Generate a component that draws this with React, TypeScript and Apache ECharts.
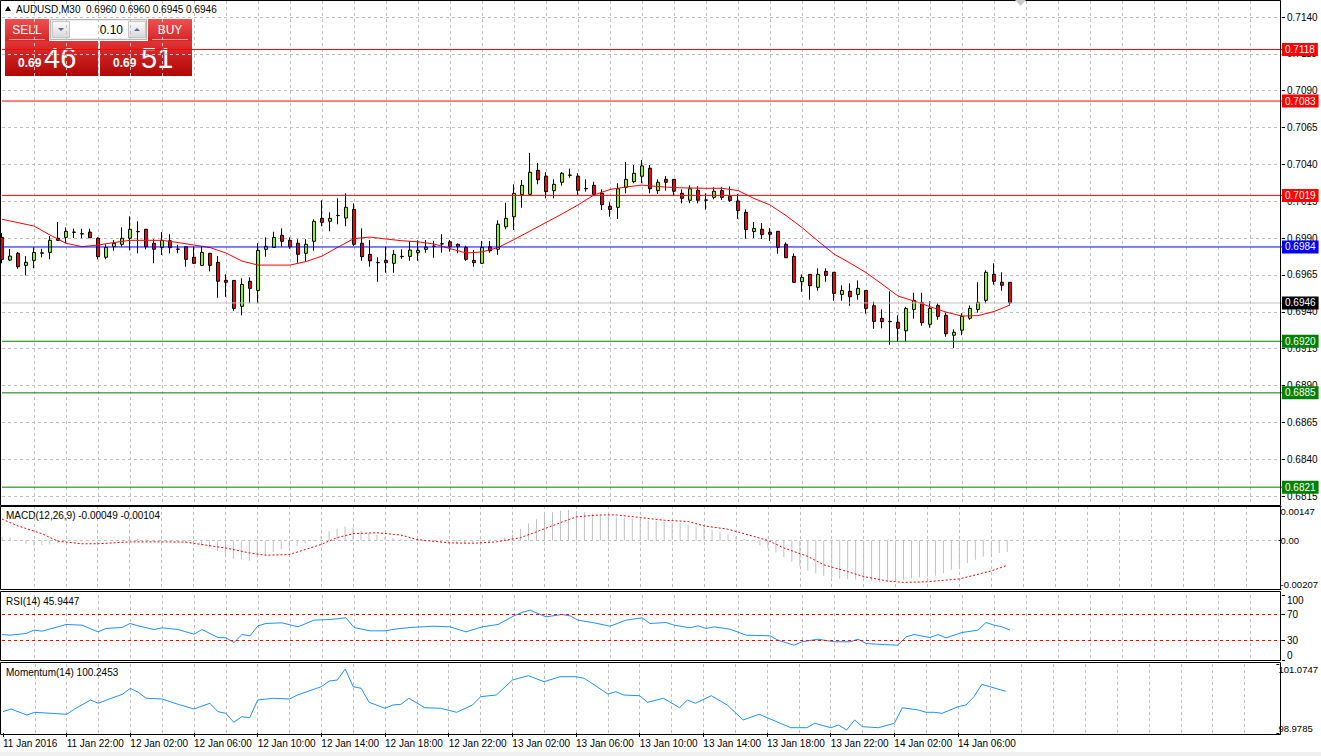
import React, { useEffect, useRef } from "react";
import * as echarts from "echarts";

const FONT = "Liberation Sans";
const slotCount = 161;

const timeTickLabels = [
  "11 Jan 2016", "11 Jan 22:00", "12 Jan 02:00", "12 Jan 06:00", "12 Jan 10:00", "12 Jan 14:00",
  "12 Jan 18:00", "12 Jan 22:00", "13 Jan 02:00", "13 Jan 06:00", "13 Jan 10:00", "13 Jan 14:00",
  "13 Jan 18:00", "13 Jan 22:00", "14 Jan 02:00", "14 Jan 06:00",
];

const opens = [
  0.69905, 0.69751, 0.69797, 0.69715, 0.69749, 0.69797, 0.69803, 0.69899, 0.69905, 0.69939,
  0.69928, 0.69941, 0.69899, 0.69770, 0.69842, 0.69858, 0.69899, 0.69943, 0.69960, 0.69865,
  0.69837, 0.69882, 0.69824, 0.69842, 0.69770, 0.69715, 0.69797, 0.69736, 0.69613, 0.69613,
  0.69437, 0.69607, 0.69545, 0.69824, 0.69837, 0.69919, 0.69885, 0.69865, 0.69797, 0.69878,
  0.70034, 0.70014, 0.70052, 0.70036, 0.70095, 0.69865, 0.69790, 0.69733, 0.69749, 0.69729,
  0.69774, 0.69776, 0.69801, 0.69824, 0.69844, 0.69860, 0.69875, 0.69858, 0.69837, 0.69749,
  0.69729, 0.69842, 0.69824, 0.69977, 0.70045, 0.70195, 0.70197, 0.70360, 0.70320, 0.70222,
  0.70279, 0.70326, 0.70320, 0.70235, 0.70258, 0.70204, 0.70116, 0.70109, 0.70245, 0.70283,
  0.70320, 0.70374, 0.70222, 0.70299, 0.70299, 0.70204, 0.70157, 0.70225, 0.70157, 0.70177,
  0.70223, 0.70183, 0.70152, 0.70075, 0.69945, 0.69960, 0.69940, 0.69946, 0.69858, 0.69776,
  0.69604, 0.69654, 0.69566, 0.69674, 0.69668, 0.69518, 0.69539, 0.69518, 0.69545, 0.69441,
  0.69356, 0.69333, 0.69329, 0.69271, 0.69416, 0.69464, 0.69315, 0.69443, 0.69376, 0.69241,
  0.69275, 0.69356, 0.69416, 0.69478, 0.69654, 0.69600, 0.69600,
];
const closes = [
  0.69756, 0.69778, 0.69706, 0.69736, 0.69803, 0.69800, 0.69885, 0.69885, 0.69946, 0.69941,
  0.69930, 0.69903, 0.69774, 0.69837, 0.69865, 0.69899, 0.69960, 0.69945, 0.69842, 0.69824,
  0.69885, 0.69835, 0.69826, 0.69756, 0.69729, 0.69803, 0.69715, 0.69607, 0.69600, 0.69423,
  0.69586, 0.69559, 0.69817, 0.69844, 0.69905, 0.69878, 0.69842, 0.69790, 0.69858, 0.70014,
  0.70007, 0.70034, 0.70054, 0.70109, 0.69858, 0.69774, 0.69746, 0.69735, 0.69733, 0.69790,
  0.69776, 0.69819, 0.69817, 0.69839, 0.69846, 0.69862, 0.69842, 0.69842, 0.69756, 0.69733,
  0.69837, 0.69814, 0.69994, 0.70034, 0.70204, 0.70258, 0.70347, 0.70296, 0.70215, 0.70265,
  0.70340, 0.70328, 0.70225, 0.70237, 0.70197, 0.70127, 0.70095, 0.70235, 0.70299, 0.70340,
  0.70390, 0.70235, 0.70279, 0.70279, 0.70218, 0.70170, 0.70235, 0.70157, 0.70159, 0.70218,
  0.70176, 0.70156, 0.70087, 0.69958, 0.69966, 0.69924, 0.69926, 0.69837, 0.69767, 0.69600,
  0.69634, 0.69577, 0.69654, 0.69647, 0.69525, 0.69545, 0.69502, 0.69559, 0.69423, 0.69335,
  0.69333, 0.69335, 0.69288, 0.69423, 0.69478, 0.69326, 0.69423, 0.69369, 0.69251, 0.69261,
  0.69369, 0.69423, 0.69464, 0.69668, 0.69607, 0.69580, 0.69460,
];
const highs = [
  0.69935, 0.69826, 0.69806, 0.69778, 0.69837, 0.69828, 0.69914, 0.70009, 0.69973, 0.69964,
  0.69964, 0.69964, 0.69905, 0.69858, 0.69887, 0.69973, 0.70048, 0.70014, 0.69962, 0.69892,
  0.69941, 0.69926, 0.69855, 0.69846, 0.69842, 0.69842, 0.69799, 0.69778, 0.69654, 0.69615,
  0.69627, 0.69634, 0.69865, 0.69905, 0.69943, 0.69966, 0.69905, 0.69892, 0.69892, 0.70028,
  0.70157, 0.70075, 0.70170, 0.70204, 0.70136, 0.69966, 0.69887, 0.69770, 0.69842, 0.69819,
  0.69824, 0.69878, 0.69885, 0.69887, 0.69882, 0.69926, 0.69887, 0.69863, 0.69848, 0.69819,
  0.69880, 0.69880, 0.70021, 0.70140, 0.70265, 0.70294, 0.70478, 0.70410, 0.70347, 0.70299,
  0.70349, 0.70371, 0.70340, 0.70299, 0.70283, 0.70231, 0.70143, 0.70272, 0.70416, 0.70396,
  0.70430, 0.70396, 0.70299, 0.70321, 0.70301, 0.70231, 0.70258, 0.70252, 0.70204, 0.70245,
  0.70247, 0.70250, 0.70199, 0.70095, 0.70009, 0.70002, 0.69968, 0.69948, 0.69871, 0.69797,
  0.69654, 0.69656, 0.69695, 0.69695, 0.69670, 0.69579, 0.69593, 0.69613, 0.69547, 0.69468,
  0.69416, 0.69539, 0.69376, 0.69434, 0.69529, 0.69529, 0.69471, 0.69457, 0.69394, 0.69281,
  0.69390, 0.69443, 0.69600, 0.69682, 0.69729, 0.69668, 0.69600,
];
const lows = [
  0.69729, 0.69744, 0.69692, 0.69647, 0.69695, 0.69770, 0.69756, 0.69882, 0.69865, 0.69901,
  0.69899, 0.69901, 0.69756, 0.69756, 0.69814, 0.69842, 0.69817, 0.69797, 0.69824, 0.69729,
  0.69785, 0.69797, 0.69797, 0.69706, 0.69724, 0.69714, 0.69674, 0.69495, 0.69502, 0.69407,
  0.69376, 0.69457, 0.69457, 0.69774, 0.69836, 0.69842, 0.69828, 0.69733, 0.69740, 0.69814,
  0.69980, 0.69946, 0.69994, 0.69980, 0.69846, 0.69746, 0.69706, 0.69604, 0.69665, 0.69665,
  0.69760, 0.69746, 0.69746, 0.69801, 0.69767, 0.69801, 0.69808, 0.69797, 0.69746, 0.69706,
  0.69727, 0.69801, 0.69787, 0.69960, 0.69955, 0.70106, 0.70196, 0.70265, 0.70170, 0.70170,
  0.70256, 0.70310, 0.70193, 0.70215, 0.70196, 0.70091, 0.70045, 0.70030, 0.70204, 0.70272,
  0.70272, 0.70204, 0.70199, 0.70222, 0.70186, 0.70136, 0.70136, 0.70136, 0.70093, 0.70163,
  0.70159, 0.70145, 0.70030, 0.69896, 0.69901, 0.69894, 0.69880, 0.69794, 0.69765, 0.69598,
  0.69536, 0.69482, 0.69543, 0.69604, 0.69475, 0.69475, 0.69441, 0.69482, 0.69387, 0.69285,
  0.69288, 0.69177, 0.69199, 0.69199, 0.69353, 0.69305, 0.69292, 0.69346, 0.69231, 0.69153,
  0.69241, 0.69346, 0.69394, 0.69457, 0.69584, 0.69543, 0.69449,
];

const maPoints = [
  [0, 0.70028], [4, 0.69982], [6, 0.69921], [8, 0.69865], [10, 0.69842], [12, 0.69853], [14, 0.69870],
  [16, 0.69885], [18, 0.69885], [20, 0.69885], [22, 0.69870], [24, 0.69853], [26, 0.69836], [28, 0.69799],
  [30, 0.69744], [32, 0.69717], [34, 0.69717], [36, 0.69717], [38, 0.69741], [40, 0.69778], [42, 0.69839],
  [44, 0.69897], [46, 0.69907], [48, 0.69894], [50, 0.69882], [52, 0.69875], [54, 0.69860], [56, 0.69829],
  [58, 0.69799], [60, 0.69806], [62, 0.69836], [64, 0.69890], [66, 0.69948], [68, 0.70006], [70, 0.70064],
  [72, 0.70125], [74, 0.70193], [76, 0.70230], [78, 0.70247], [80, 0.70260], [82, 0.70250], [84, 0.70243],
  [86, 0.70240], [88, 0.70238], [90, 0.70238], [92, 0.70223], [94, 0.70169], [96, 0.70125], [98, 0.70053],
  [100, 0.69972], [102, 0.69880], [104, 0.69792], [106, 0.69731], [108, 0.69666], [110, 0.69588],
  [112, 0.69507], [114, 0.69473], [116, 0.69435], [118, 0.69398], [120, 0.69371], [122, 0.69374],
  [124, 0.69402], [126, 0.69446],
];

const priceMin = 0.68089;
const priceMax = 0.71509;
const priceTicks = [0.6815, 0.684, 0.6865, 0.689, 0.6915, 0.694, 0.6965, 0.699, 0.7015, 0.704, 0.7065, 0.709, 0.7115, 0.714];
const levelValues = [0.7118, 0.7083, 0.7019, 0.6984, 0.6946, 0.692, 0.6885, 0.6821];
const levelKinds = ["resistance", "resistance", "resistance", "pivot", "bid", "support", "support", "support"];

const macdMain = [
  0.00016, 0.00014, -0.00003, -0.00014, -0.0002, -0.0002, -0.00017, -0.00012, -0.00006, -0.00003,
  0.00001, 0.00002, 0.00002, 0.00001, 0.00001, 0.00003, 0.00005, 0.00006, 0.00005, 0.00003,
  0.00003, 0.00001, -0.00004, -0.0001, -0.00016, -0.00022, -0.0003, -0.00045, -0.00058, -0.00078,
  -0.0008, -0.00086, -0.00075, -0.00062, -0.0005, -0.00038, -0.0003, -0.00024, -0.00012, 0.00004,
  0.00019, 0.0004, 0.0005, 0.0006, 0.00055, 0.0004, 0.0003, 0.00024, 0.00016, 0.0001,
  0.00005, 0.00002, -0.00002, -0.00005, -0.00008, -0.00009, -0.00012, -0.00015, -0.00014, -0.00012,
  -0.00008, -0.00005, 0.0, 0.00012, 0.00026, 0.0005, 0.00072, 0.0009, 0.0011, 0.0012,
  0.00127, 0.0013, 0.00127, 0.0012, 0.00115, 0.00109, 0.00105, 0.00101, 0.00098, 0.00095,
  0.0009, 0.00086, 0.00084, 0.0008, 0.00078, 0.00074, 0.00068, 0.0006, 0.00054, 0.00046,
  0.00036, 0.00026, 0.00016, 0.00006, -0.00004, -0.0002, -0.00032, -0.0005, -0.0007, -0.0009,
  -0.0011, -0.00128, -0.0014, -0.0015, -0.00158, -0.00162, -0.00165, -0.00167, -0.0017, -0.00173,
  -0.00176, -0.00176, -0.00173, -0.00168, -0.00162, -0.00158, -0.00154, -0.0015, -0.0014, -0.00125,
  -0.0011, -0.00096, -0.00082, -0.00068, -0.0006, -0.00053, -0.00049,
];
const macdSignalPoints = [
  [0, 0.00091], [2, 0.00062], [5, 0.00029], [7, -0.00003], [10, -0.00014], [12, -0.00014], [16, -0.00006],
  [20, -0.00006], [23, -0.00007], [25, -0.00017], [28, -0.00032], [31, -0.00053], [33, -0.00063],
  [36, -0.0006], [38, -0.00039], [40, -0.00017], [42, 0.00012], [44, 0.00029], [47, 0.00033], [50, 0.00023],
  [52, 0.00004], [56, -0.0001], [59, -0.00012], [62, -0.00006], [65, 0.00012], [67, 0.00037], [70, 0.00076],
  [72, 0.00101], [75, 0.00109], [77, 0.00109], [80, 0.00098], [83, 0.00086], [86, 0.00081], [88, 0.00062],
  [91, 0.00048], [93, 0.00029], [96, 0.0], [98, -0.00032], [101, -0.00068], [103, -0.00104], [106, -0.00133],
  [108, -0.00154], [111, -0.00173], [113, -0.00179], [116, -0.00176], [120, -0.00164], [122, -0.00147],
  [124, -0.0013], [125, -0.00118], [126, -0.00106],
];
const macdTicks = [-0.00207, 0, 0.00147];

const rsiPoints = [
  [0, 39.2], [1, 38.2], [3, 40.8], [4, 45.9], [5, 44.4], [7, 51], [8, 54.6], [10, 53.6], [12, 43.3], [13, 48.5],
  [15, 50], [16, 56.2], [17, 52.6], [19, 46.9], [20, 49.5], [22, 46.9], [24, 39.7], [25, 46.9], [27, 34.6],
  [28, 34.1], [29, 26.9], [30, 39.2], [31, 37.2], [32, 52.6], [33, 56.2], [35, 57.2], [37, 51], [39, 61.3],
  [41, 62.3], [43, 64.9], [44, 50], [46, 44.9], [48, 44.9], [49, 47.4], [51, 50], [54, 52], [56, 51],
  [58, 43.3], [60, 51], [62, 54.6], [64, 68], [65, 73.1], [66, 76.7], [68, 66.4], [70, 70], [71, 68],
  [72, 61.3], [74, 57.2], [76, 52], [78, 61.3], [80, 64.9], [81, 56.2], [83, 57.7], [84, 53.6], [86, 49.5],
  [87, 52.6], [88, 48.5], [89, 51], [91, 47.4], [93, 38.2], [96, 37.2], [97, 30.5], [99, 22.8], [100, 28],
  [102, 32], [104, 28], [106, 28], [107, 32], [108, 25.4], [110, 23.8], [112, 22.8], [113, 35.6], [114, 39.2],
  [116, 34.6], [117, 39.2], [118, 34.1], [120, 42.3], [122, 45.9], [123, 57.7], [124, 53.6], [125, 51],
  [126, 45.9447],
];
const rsiLevels = [30, 70];
const rsiTicks = [0, 30, 70, 100];

const momentumPoints = [
  [0, 99.626], [1, 99.708], [3, 99.525], [4, 99.607], [6, 99.577], [8, 99.547], [9, 99.708], [11, 99.981],
  [12, 99.881], [13, 99.981], [15, 100.154], [16, 100.336], [17, 100.215], [18, 100.033], [20, 100.011],
  [22, 99.85], [24, 99.708], [26, 99.881], [27, 99.626], [28, 99.577], [29, 99.304], [30, 99.474],
  [31, 99.443], [32, 99.981], [34, 100.033], [36, 100.011], [37, 100.133], [40, 100.385], [41, 100.558],
  [42, 100.588], [43, 100.923], [44, 100.385], [45, 100.336], [46, 99.911], [48, 99.729], [49, 99.829],
  [50, 99.85], [51, 100.033], [53, 99.747], [55, 99.729], [57, 99.607], [59, 99.829], [60, 100.082],
  [62, 100.133], [64, 100.588], [66, 100.719], [68, 100.537], [70, 100.689], [72, 100.689], [73, 100.64],
  [74, 100.488], [76, 100.163], [77, 100.233], [78, 100.133], [80, 100.11], [81, 99.911], [83, 100.033],
  [85, 99.747], [86, 99.981], [87, 99.881], [89, 100.112], [91, 99.829], [93, 99.374], [95, 99.547],
  [97, 99.343], [99, 99.139], [101, 99.14], [102, 99.273], [104, 99.139], [105, 99.22], [106, 99.07],
  [107, 99.374], [108, 99.17], [110, 99.139], [112, 99.273], [113, 99.747], [115, 99.677], [116, 99.607],
  [117, 99.607], [118, 99.577], [120, 99.777], [121, 99.829], [122, 100.082], [123, 100.458],
  [124, 100.385], [126, 100.2453],
];
const momentumTicks = [98.9785, 101.0747];

const levelStyle: Record<string, { line: string; bg: string }> = {
  resistance: { line: "#ff0000", bg: "#ff0000" },
  pivot: { line: "#0000ff", bg: "#0000ff" },
  bid: { line: "#c0c0c0", bg: "#000000" },
  support: { line: "#008000", bg: "#008000" },
};

function buildOption() {
  const categories = Array.from({ length: slotCount }, (_, i) => String(i));
  const lastSlot = slotCount - 1;
  const dash = { color: "#c0c0c0", type: [3, 3] as any, width: 1 };
  const vSplit = {
    show: true,
    interval: (i: number) => i > 0 && i % 4 === 0 && i < 158,
    lineStyle: dash,
  };
  const labelInterval = (i: number) => i % 8 === 0 && i / 8 < timeTickLabels.length;

  const xAxis = [0, 1, 2, 3].map((gi) => ({
    type: "category",
    gridIndex: gi,
    data: categories,
    boundaryGap: false,
    axisLine: { show: false },
    axisTick:
      gi === 3
        ? { show: true, interval: labelInterval, length: 4, lineStyle: { color: "#000" } }
        : { show: false },
    axisLabel:
      gi === 3
        ? {
            show: true,
            interval: labelInterval,
            formatter: (_v: string, idx: number) => timeTickLabels[idx / 8] || "",
            align: "left",
            margin: 5,
            color: "#000",
            fontSize: 10,
            fontFamily: FONT,
          }
        : { show: false },
    splitLine: vSplit,
  }));

  const yAx = (gi: number, min: number, max: number, ticks: number[], fmt: (v: number) => string, margin: number, size: number) => ({
    type: "value",
    gridIndex: gi,
    position: "right",
    min,
    max,
    axisLine: { show: false },
    splitLine: { show: false },
    axisTick: { show: true, customValues: ticks, length: 3, lineStyle: { color: "#000" } },
    axisLabel: {
      customValues: ticks,
      formatter: fmt,
      color: "#000",
      fontSize: size,
      fontFamily: FONT,
      margin,
      verticalAlignMaxLabel: gi === 0 ? "middle" : "top",
      verticalAlignMinLabel: gi === 0 ? "middle" : "bottom",
    },
  });

  const yAxis = [
    yAx(0, priceMin, priceMax, priceTicks, (v) => v.toFixed(4), 5, 10),
    yAx(1, macdTicks[0], macdTicks[2], macdTicks, (v) => (v === 0 ? "0.00" : v.toFixed(5)), 2, 9.5),
    yAx(2, 0, 100, rsiTicks, (v) => String(v), 5, 10),
    yAx(3, momentumTicks[0], momentumTicks[1], momentumTicks, (v) => v.toFixed(4), 2, 9.5),
  ];

  const candleData = opens.map((o, i) => [o, closes[i], lows[i], highs[i]]);

  const levelSeries = levelValues.map((v, i) => {
    const st = levelStyle[levelKinds[i]];
    return {
      type: "line",
      xAxisIndex: 0,
      yAxisIndex: 0,
      data: [
        [0, v],
        [lastSlot, v],
      ],
      symbol: "none",
      silent: true,
      clip: false,
      z: 5,
      lineStyle: { color: st.line, width: 1, type: "solid" },
      endLabel: {
        show: true,
        formatter: v.toFixed(4),
        backgroundColor: st.bg,
        color: "#ffffff",
        padding: [2, 3, 1, 3],
        fontSize: 10,
        fontFamily: FONT,
        distance: 0,
      },
    };
  });

  const series: any[] = [
    {
      type: "candlestick",
      xAxisIndex: 0,
      yAxisIndex: 0,
      data: candleData,
      barWidth: 4,
      clip: false,
      z: 3,
      itemStyle: {
        color: "#7fff00",
        color0: "#ff0000",
        borderColor: "#000000",
        borderColor0: "#000000",
        borderWidth: 1,
      },
      markLine: {
        silent: true,
        z: 1,
        precision: 6,
        symbol: ["none", "none"],
        label: { show: false },
        lineStyle: dash,
        data: priceTicks.map((v) => ({ yAxis: v })),
      },
    },
    {
      type: "line",
      xAxisIndex: 0,
      yAxisIndex: 0,
      data: maPoints,
      symbol: "none",
      z: 4,
      lineStyle: { color: "#ff0000", width: 1 },
    },
    ...levelSeries,
    {
      type: "bar",
      xAxisIndex: 1,
      yAxisIndex: 1,
      data: macdMain,
      barWidth: 1,
      z: 2,
      itemStyle: { color: "#c0c0c0" },
      markLine: {
        silent: true,
        z: 1,
        precision: 6,
        symbol: ["none", "none"],
        label: { show: false },
        lineStyle: dash,
        data: [{ yAxis: 0 }],
      },
    },
    {
      type: "line",
      xAxisIndex: 1,
      yAxisIndex: 1,
      data: macdSignalPoints,
      symbol: "none",
      z: 3,
      lineStyle: { color: "#ff0000", width: 1, type: [2, 2] },
    },
    {
      type: "line",
      xAxisIndex: 2,
      yAxisIndex: 2,
      data: rsiPoints,
      symbol: "none",
      z: 3,
      lineStyle: { color: "#1e90ff", width: 1 },
      markLine: {
        silent: true,
        precision: 6,
        symbol: ["none", "none"],
        label: { show: false },
        lineStyle: { color: "#ff0000", type: [3, 3], width: 1 },
        data: rsiLevels.map((v) => ({ yAxis: v })),
      },
    },
    {
      type: "line",
      xAxisIndex: 3,
      yAxisIndex: 3,
      data: momentumPoints,
      symbol: "none",
      z: 3,
      lineStyle: { color: "#1e90ff", width: 1 },
    },
  ];

  const frame = (y: number, h: number) => ({
    type: "rect",
    z: 50,
    silent: true,
    shape: { x: 0.5, y: y + 0.5, width: 1280, height: h },
    style: { fill: "none", stroke: "#000", lineWidth: 1 },
  });
  const txt = (x: number, y: number, text: string, extra: any = {}) => ({
    type: "text",
    z: 60,
    silent: true,
    x,
    y,
    style: { text, fill: "#000", font: `10px "${FONT}"`, textVerticalAlign: "middle", ...extra },
  });
  const redGrad = (a: string, b: string) =>
    new echarts.graphic.LinearGradient(0, 0, 0, 1, [
      { offset: 0, color: a },
      { offset: 1, color: b },
    ]);
  const grayGrad = () =>
    new echarts.graphic.LinearGradient(0, 0, 0, 1, [
      { offset: 0, color: "#fbfbfb" },
      { offset: 1, color: "#d8d8d8" },
    ]);

  const panel = {
    type: "group",
    z: 100,
    silent: true,
    children: [
      { type: "rect", shape: { x: 5, y: 19, width: 44, height: 22 }, style: { fill: redGrad("#ef5050", "#d42626") } },
      { type: "rect", shape: { x: 148, y: 19, width: 44, height: 22 }, style: { fill: redGrad("#ef5050", "#d42626") } },
      { type: "line", shape: { x1: 9, y1: 39.5, x2: 45, y2: 39.5 }, style: { stroke: "#f49a9a", lineWidth: 1 } },
      { type: "line", shape: { x1: 152, y1: 39.5, x2: 188, y2: 39.5 }, style: { stroke: "#f49a9a", lineWidth: 1 } },
      { type: "text", x: 27, y: 30, style: { text: "SELL", fill: "#fff", font: `12px "${FONT}"`, textAlign: "center", textVerticalAlign: "middle" } },
      { type: "text", x: 170, y: 30, style: { text: "BUY", fill: "#fff", font: `12px "${FONT}"`, textAlign: "center", textVerticalAlign: "middle" } },
      { type: "rect", shape: { x: 50.5, y: 19.5, width: 96, height: 20 }, style: { fill: "#ececec", stroke: "#b4b4b4", lineWidth: 1 } },
      { type: "rect", shape: { x: 52.5, y: 21.5, width: 17, height: 16 }, style: { fill: grayGrad(), stroke: "#c4c4c4", lineWidth: 1 } },
      { type: "rect", shape: { x: 128.5, y: 21.5, width: 17, height: 16 }, style: { fill: grayGrad(), stroke: "#c4c4c4", lineWidth: 1 } },
      { type: "rect", shape: { x: 70, y: 21, width: 58, height: 17 }, style: { fill: "#ffffff" } },
      { type: "polygon", shape: { points: [[58, 28], [64, 28], [61, 31]] }, style: { fill: "#5a6a9a" } },
      { type: "polygon", shape: { points: [[134, 31], [140, 31], [137, 28]] }, style: { fill: "#5a6a9a" } },
      { type: "text", x: 123, y: 30, style: { text: "0.10", fill: "#000", font: `12px "${FONT}"`, textAlign: "right", textVerticalAlign: "middle" } },
      { type: "rect", shape: { x: 5, y: 41, width: 93, height: 35 }, style: { fill: redGrad("#e23434", "#b00606") } },
      { type: "rect", shape: { x: 100, y: 41, width: 92, height: 35 }, style: { fill: redGrad("#e23434", "#b00606") } },
      { type: "text", x: 18, y: 69, style: { text: "0.69", fill: "#fff", font: `bold 12px "${FONT}"`, textVerticalAlign: "bottom" } },
      { type: "text", x: 113, y: 69, style: { text: "0.69", fill: "#fff", font: `bold 12px "${FONT}"`, textVerticalAlign: "bottom" } },
      { type: "text", x: 44, y: 72, style: { text: "46", fill: "#fff", font: `29px "${FONT}"`, textVerticalAlign: "bottom" } },
      { type: "text", x: 141, y: 72, style: { text: "51", fill: "#fff", font: `29px "${FONT}"`, textVerticalAlign: "bottom" } },
    ],
  };

  const graphic: any[] = [
    frame(0, 505),
    frame(506, 83),
    frame(591, 69),
    frame(662, 72),
    { type: "rect", z: 40, silent: true, shape: { x: 0, y: 752, width: 1321, height: 4 }, style: { fill: "#f0f0f0" } },
    { type: "polygon", z: 60, silent: true, shape: { points: [[1015, 0], [1026, 0], [1020.5, 6]] }, style: { fill: "#c8c8c8" } },
    { type: "polygon", z: 60, silent: true, shape: { points: [[5, 11], [11, 11], [8, 6]] }, style: { fill: "#000" } },
    txt(16, 9, "AUDUSD,M30  0.6960 0.6960 0.6945 0.6946"),
    txt(6, 515, "MACD(12,26,9) -0.00049 -0.00104"),
    txt(6, 601, "RSI(14) 45.9447"),
    txt(6, 672, "Momentum(14) 100.2453"),
    panel,
  ];

  return {
    animation: false,
    backgroundColor: "#ffffff",
    textStyle: { fontFamily: FONT },
    grid: [
      { left: 2, top: 1, width: 1280, height: 504 },
      { left: 2, top: 506, width: 1280, height: 83 },
      { left: 2, top: 595, width: 1280, height: 65 },
      { left: 2, top: 664, width: 1280, height: 69 },
    ],
    xAxis,
    yAxis,
    series,
    graphic,
  };
}

export default function App() {
  const ref = useRef<HTMLDivElement>(null);
  useEffect(() => {
    document.body.style.margin = "0";
    const chart = echarts.init(ref.current!, undefined, { renderer: "svg", width: 1321, height: 756 });
    chart.setOption(buildOption() as any);
    return () => chart.dispose();
  }, []);
  return (
    <div
      ref={ref}
      style={{ position: "fixed", left: 0, top: 0, width: 1321, height: 756, background: "#ffffff" }}
    />
  );
}
